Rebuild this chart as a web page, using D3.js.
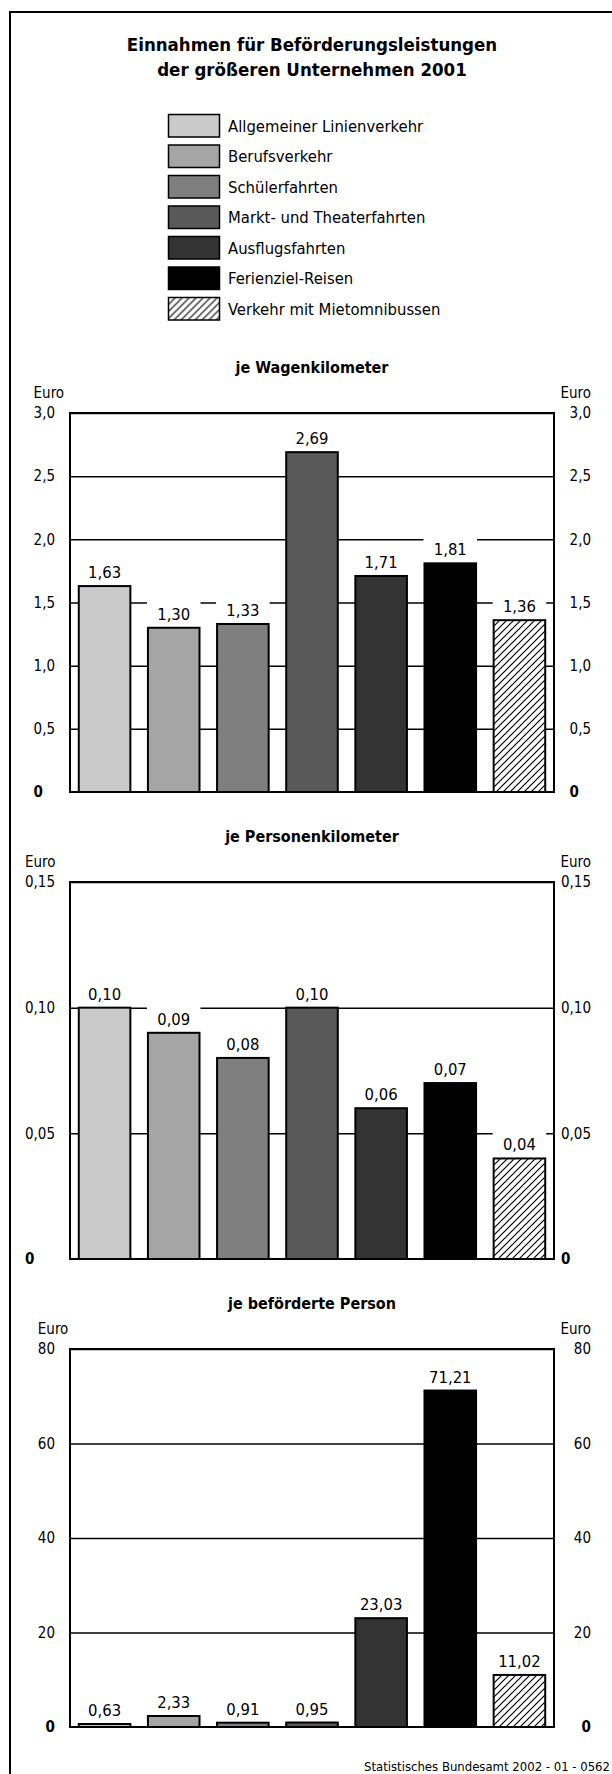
<!DOCTYPE html>
<meta charset="utf-8">
<style>
    body { margin: 0; background: #fff; }
    text {
        font-family: "DejaVu Sans Condensed", "DejaVu Sans", sans-serif;
        font-stretch: condensed;
        fill: #000;
    }
    .title { font-size: 18.5px; font-weight: bold; }
    .subtitle { font-size: 16px; font-weight: bold; }
    .legend text { font-size: 16.5px; }
    .tick-label text, .euro { font-size: 15px; }
    .zero { font-weight: bold; }
    .value { font-size: 16.5px; }
    .footer { font-size: 13px; }
    .grid line { stroke: #000; stroke-width: 1.5px; }
    .grid .domain { display: none; }
    .bar { stroke: #000; stroke-width: 2px; }
    .frame { fill: none; stroke: #000; stroke-width: 2px; }
</style>
<svg id="svg" width="612" height="1774"></svg>

<script src="https://cdnjs.cloudflare.com/ajax/libs/d3/7.8.5/d3.min.js"></script>
<script>

var categories = ["Allgemeiner Linienverkehr", "Berufsverkehr", "Schülerfahrten",
    "Markt- und Theaterfahrten", "Ausflugsfahrten", "Ferienziel-Reisen",
    "Verkehr mit Mietomnibussen"];
var colors = ["#cacaca", "#a5a5a5", "#7f7f7f", "#595959", "#333333", "#000000", "url(#hatch)"];

var perWagenkm = [1.63, 1.30, 1.33, 2.69, 1.71, 1.81, 1.36];
var perPersonenkm = [0.10, 0.09, 0.08, 0.10, 0.06, 0.07, 0.04];
var perPerson = [0.63, 2.33, 0.91, 0.95, 23.03, 71.21, 11.02];

var ticksWagenkm = [0, 0.5, 1.0, 1.5, 2.0, 2.5, 3.0];
var ticksPersonenkm = [0, 0.05, 0.10, 0.15];
var ticksPerson = [0, 20, 40, 60, 80];

var de = d3.formatLocale({decimal: ",", thousands: ".", grouping: [3], currency: ["", " €"]});

var svg = d3.select("#svg");

// hatch for the last category
svg.append("defs").append("pattern")
    .attr("id", "hatch")
    .attr("patternUnits", "userSpaceOnUse")
    .attr("width", 7).attr("height", 7)
  .call(function(p) {
    p.append("rect").attr("width", 7).attr("height", 7).attr("fill", "#fff");
    p.append("path")
      .attr("d", "M-1,1 l2,-2 M0,7 l7,-7 M6,8 l2,-2")
      .attr("stroke", "#000").attr("stroke-width", 1.2);
  });

// outer frame (right/bottom edge runs off the page)
svg.append("rect").attr("class", "frame")
    .attr("x", 10).attr("y", 12).attr("width", 640).attr("height", 1800);

var plotLeft = 70, plotRight = 554;
var cx = (plotLeft + plotRight) / 2;

svg.append("text").attr("class", "title")
    .attr("x", cx).attr("y", 51).attr("text-anchor", "middle")
    .text("Einnahmen für Beförderungsleistungen");
svg.append("text").attr("class", "title")
    .attr("x", cx).attr("y", 76).attr("text-anchor", "middle")
    .text("der größeren Unternehmen 2001");

// legend
var legend = svg.append("g").attr("class", "legend")
  .selectAll("g")
  .data(categories)
  .enter().append("g")
    .attr("transform", function(d, i) { return "translate(168.5," + (114.5 + i * 30.5) + ")"; });

legend.append("rect")
    .attr("width", 51).attr("height", 22.5)
    .attr("fill", function(d, i) { return colors[i]; })
    .attr("stroke", "#000").attr("stroke-width", 1.5);

legend.append("text")
    .attr("x", 59.5).attr("y", 11.5)
    .attr("dy", "0.35em")
    .text(function(d) { return d; });

var x = d3.scaleBand()
    .domain(categories)
    .range([plotLeft, plotRight])
    .paddingInner(0.254)
    .paddingOuter(0.127);

function drawChart(opt) {
  var g = svg.append("g");
  var y = d3.scaleLinear()
      .domain([0, d3.max(opt.ticks)])
      .range([opt.bottom, opt.top]);
  var tickFmt = de.format(opt.tickFormat);
  var valFmt = de.format(",.2f");

  g.append("text").attr("class", "subtitle")
      .attr("x", cx).attr("y", opt.top - 40).attr("text-anchor", "middle")
      .text(opt.title);

  // gridlines
  g.append("g").attr("class", "grid")
      .attr("transform", "translate(" + plotLeft + ",0)")
      .call(d3.axisLeft(y).tickValues(opt.ticks.slice(1)).tickSize(-(plotRight - plotLeft)).tickFormat(""));

  var data = opt.values.map(function(v, i) { return {c: categories[i], v: v, i: i}; });

  // white boxes behind value labels cut the gridlines
  g.selectAll(".label-bg")
    .data(data)
    .enter().append("rect")
      .attr("fill", "#fff")
      .attr("x", function(d) { return x(d.c) - 1; })
      .attr("width", x.bandwidth() + 2)
      .attr("y", function(d) { return y(d.v) - 27; })
      .attr("height", 26);

  g.selectAll(".bar")
    .data(data)
    .enter().append("rect")
      .attr("class", "bar")
      .attr("x", function(d) { return x(d.c); })
      .attr("width", x.bandwidth())
      .attr("y", function(d) { return y(d.v); })
      .attr("height", function(d) { return opt.bottom - y(d.v); })
      .attr("fill", function(d) { return colors[d.i]; });

  g.selectAll(".value")
    .data(data)
    .enter().append("text")
      .attr("class", "value")
      .attr("x", function(d) { return x(d.c) + x.bandwidth() / 2; })
      .attr("y", function(d) { return y(d.v) - 8; })
      .attr("text-anchor", "middle")
      .text(function(d) { return valFmt(d.v); });

  // plot frame
  g.append("rect").attr("class", "frame")
      .attr("x", plotLeft).attr("y", opt.top)
      .attr("width", plotRight - plotLeft).attr("height", opt.bottom - opt.top);

  // tick labels on both sides
  [55, 591].forEach(function(edge) {
    var ax = g.append("g").attr("class", "tick-label")
        .attr("transform", "translate(" + edge + ",0)")
        .call(d3.axisLeft(y).tickValues(opt.ticks).tickSize(0).tickPadding(0)
          .tickFormat(function(d) { return d === 0 ? "0" : tickFmt(d); }));
    ax.attr("font-family", null).attr("font-size", null);
    ax.select(".domain").remove();

    var topText = ax.selectAll("text").filter(function(d) { return d === d3.max(opt.ticks); });
    var topW = topText.node().getComputedTextLength();

    var zero = ax.selectAll("text").filter(function(d) { return d === 0; })
        .classed("zero", true);
    if (opt.zeroStart) zero.attr("text-anchor", "start").attr("x", -topW);

    var euro = ax.append("text").attr("class", "euro")
        .attr("y", opt.top - 20).attr("dy", "0.32em")
        .text("Euro");
    if (edge < plotLeft) euro.attr("x", -topW).attr("text-anchor", "start");
    else euro.attr("x", 0).attr("text-anchor", "end");
  });
}

drawChart({title: "je Wagenkilometer", values: perWagenkm, ticks: ticksWagenkm,
  tickFormat: ".1f", top: 413, bottom: 792, zeroStart: true});
drawChart({title: "je Personenkilometer", values: perPersonenkm, ticks: ticksPersonenkm,
  tickFormat: ".2f", top: 882, bottom: 1259, zeroStart: true});
drawChart({title: "je beförderte Person", values: perPerson, ticks: ticksPerson,
  tickFormat: "d", top: 1349, bottom: 1727, zeroStart: false});

svg.append("text").attr("class", "footer")
    .attr("x", 610).attr("y", 1771)
    .attr("text-anchor", "end")
    .text("Statistisches Bundesamt 2002 - 01 - 0562");

</script>
